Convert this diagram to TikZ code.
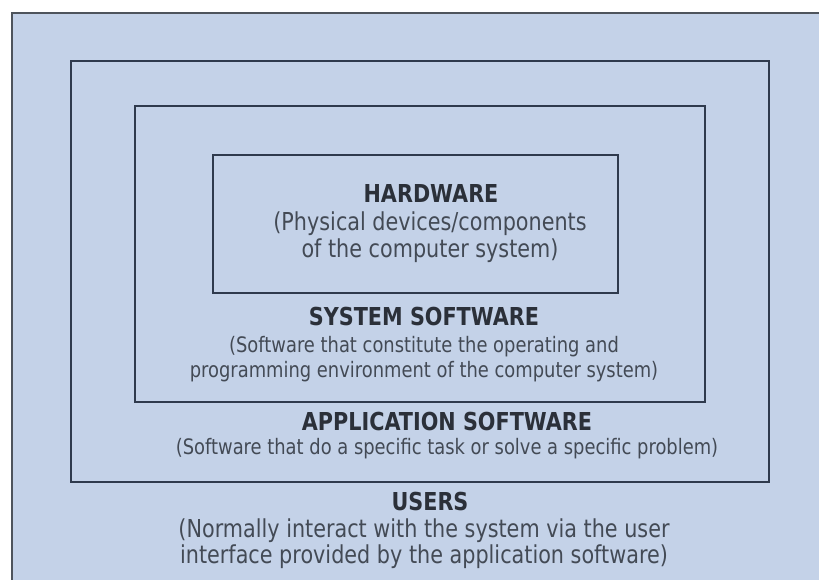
\documentclass[tikz,border=0pt]{standalone}
\usepackage{fontspec}
\setmainfont{DejaVu Sans}[FakeStretch=0.84]
\definecolor{layerfill}{HTML}{C4D2E8}
\definecolor{layerline}{HTML}{2F3A4D}
\definecolor{framegray}{HTML}{4E545C}
\definecolor{headtext}{HTML}{2B3039}
\definecolor{bodytext}{HTML}{434A55}
\begin{document}
\begin{tikzpicture}[x=1pt,y=-1pt,line width=1.8pt,
  head/.style={anchor=base,inner sep=0pt,text=headtext,font=\fontsize{24.7}{28}\selectfont\bfseries},
  bigtext/.style={anchor=base,inner sep=0pt,text=bodytext,font=\fontsize{24.7}{28}\selectfont},
  smalltext/.style={anchor=base,inner sep=0pt,text=bodytext,font=\fontsize{21.3}{25}\selectfont}]
\useasboundingbox (0,0) rectangle (819,580);
\fill[white] (0,0) rectangle (819,580);
\draw[fill=layerfill,draw=framegray] (12,13) rectangle (840,600);
\draw[layerline] (71,61) rectangle (769,482);
\draw[layerline] (135,106) rectangle (705,402);
\draw[layerline] (213,155) rectangle (618,293);
% hardware
\node[head] (hwhead) at (431,203) {HARDWARE};
\node[bigtext] (hwlineA) at (430,230) {(Physical devices/components};
\node[bigtext] (hwlineB) at (430,258) {of the computer system)};
% system software
\node[head] (syshead) at (424,325) {SYSTEM SOFTWARE};
\node[smalltext] (syslineA) at (424,352) {(Software that constitute the operating and};
\node[smalltext] (syslineB) at (424,377) {programming environment of the computer system)};
% application software
\node[head] (apphead) at (447,430) {APPLICATION SOFTWARE};
\node[smalltext] (appline) at (447,454) {(Software that do a specific task or solve a specific problem)};
% users
\node[head] (userhead) at (430,510) {USERS};
\node[bigtext] (userlineA) at (424,537) {(Normally interact with the system via the user};
\node[bigtext] (userlineB) at (424,563) {interface provided by the application software)};
\end{tikzpicture}
\end{document}
